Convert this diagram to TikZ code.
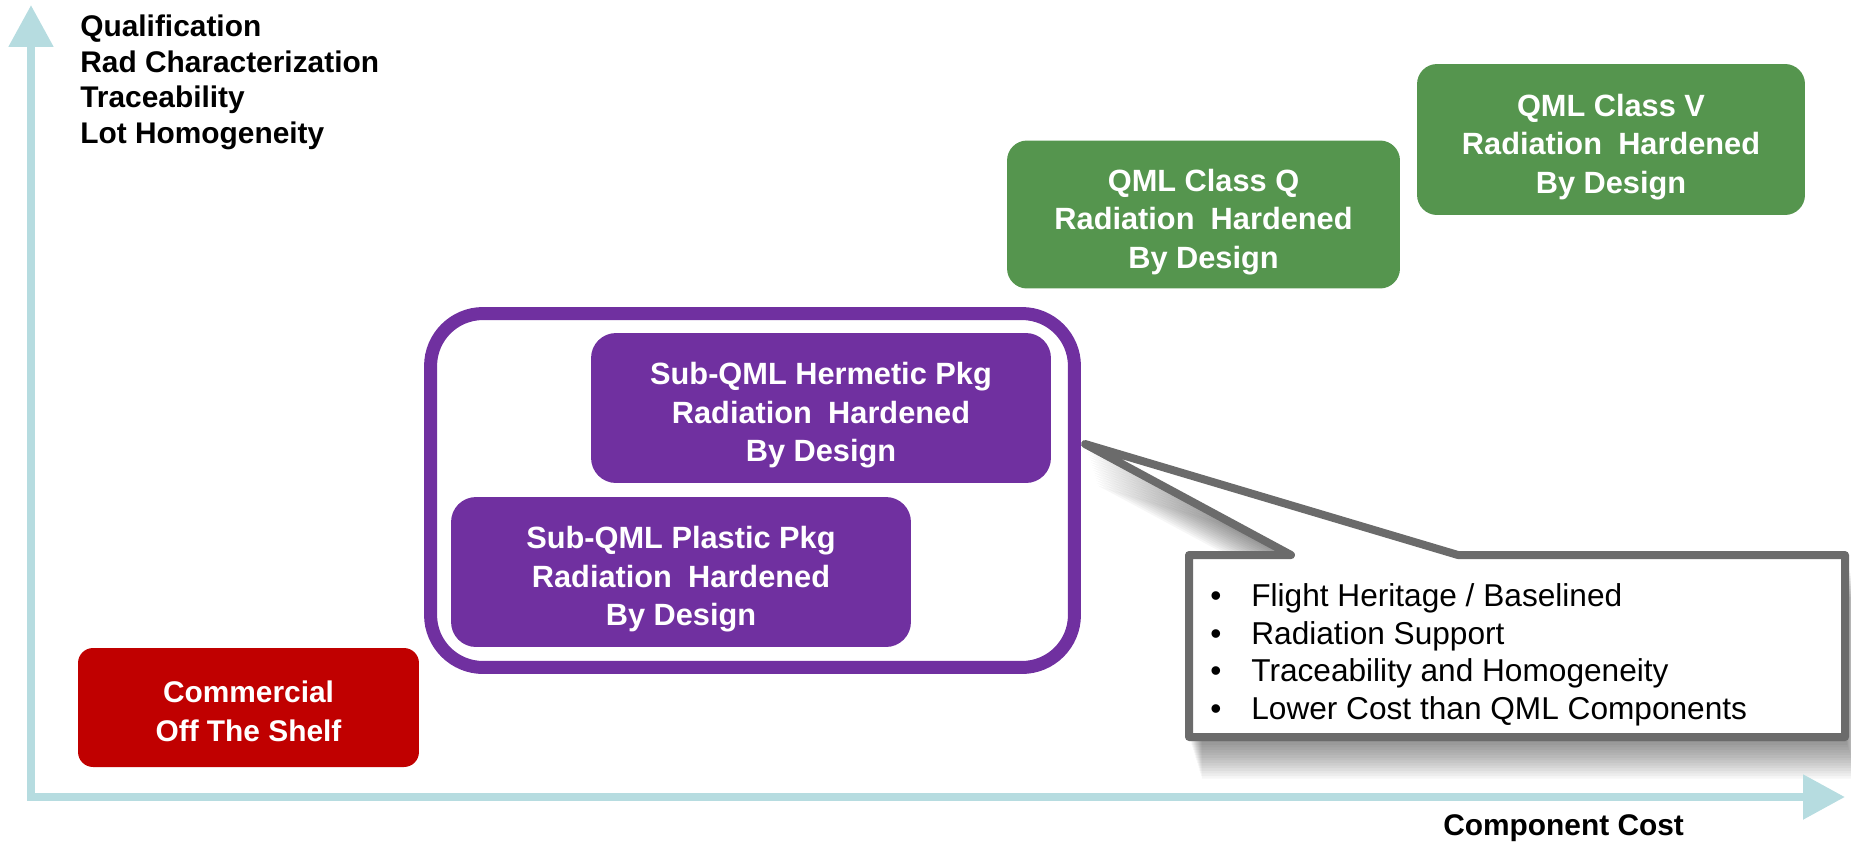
\documentclass[tikz,border=0pt]{standalone}
\usepackage{fontspec}
\setmainfont{Liberation Sans}
\usetikzlibrary{arrows.meta,positioning}
\definecolor{AxisTeal}{HTML}{B6DCE0}
\definecolor{CotsRed}{HTML}{C00000}
\definecolor{QmlGreen}{HTML}{55954E}
\definecolor{SubPurple}{HTML}{7030A0}
\definecolor{NoteGray}{HTML}{6B6B6B}
% padding above the first line of a box text
\newcommand{\boxpad}{\rule{0pt}{0.74cm}}
\newcommand{\cotspad}{\rule{0pt}{0.58cm}}
\tikzset{
    % Axis arrows
    axisarrow/.style={
        {Triangle[width=0.86cm,length=0.84cm]}-{Triangle[width=0.86cm,length=0.84cm]},
        line width=0.17cm,
        draw=AxisTeal,
        line join=miter
    },
    % Axis labels
    axislabel/.style={
        inner sep=0pt,
        align=left,
        font=\fontsize{17pt}{20.2pt}\selectfont\bfseries
    },
    % Base box style
    basebox/.style={
        inner sep=0pt,
        align=center,
        text=white,
        font=\fontsize{17.5pt}{21.8pt}\selectfont\bfseries
    },
    % COTS box
    cotsbox/.style={
        basebox,
        fill=CotsRed,
        rounded corners=0.3cm,
        minimum width=6.82cm,
        minimum height=2.38cm,
        font=\fontsize{17pt}{22.1pt}\selectfont\bfseries
    },
    % QML boxes
    qmlbox/.style={
        basebox,
        fill=QmlGreen,
        rounded corners=0.4cm,
        minimum width=7.8cm,
        minimum height=3cm
    },
    % Sub-QML boxes
    subqmlbox/.style={
        basebox,
        fill=SubPurple,
        rounded corners=0.5cm,
        minimum width=9.2cm,
        minimum height=3cm
    },
    % Frame round the Sub-QML boxes
    subqmlframe/.style={
        draw=SubPurple,
        line width=0.26cm,
        rounded corners=1.05cm,
        minimum width=12.88cm,
        minimum height=7.08cm
    },
    % Callout
    calloutline/.style={
        draw=NoteGray,
        fill=white,
        line width=0.16cm,
        line join=round
    },
    calloutshadow/.style={
        fill=black,
        opacity=0.035
    },
    notetext/.style={
        inner sep=0pt,
        align=left,
        font=\fontsize{18pt}{21.5pt}\selectfont
    }
}

\begin{document}
\begin{tikzpicture}[x=0.02cm, y=-0.02cm]
    \useasboundingbox (0,0) rectangle (1851,842);

    % Callout shadow
    \foreach \k in {1,...,16}
        \fill[calloutshadow, shift={(0.8*\k,2.6*\k)}] (1189,555) -- (1291,555) -- (1085,444) -- (1458,555) -- (1845,555) -- (1845,737) -- (1189,737) -- cycle;

    % Axes
    \coordinate (origin) at (31,797);
    \coordinate (ytip) at (31,5);
    \coordinate (xtip) at (1845,797);
    \draw[axisarrow] (ytip) -- (origin) -- (xtip);
    \node[axislabel, anchor=north west] (ylabel) at (80,15) {Qualification\\Rad Characterization\\Traceability\\Lot Homogeneity};
    \node[axislabel, anchor=base west] (xlabel) at (1443,835) {Component Cost};

    % Commercial parts
    \node[cotsbox] (cots) at (248.5,707.5) {\cotspad Commercial\\Off The Shelf};

    % Sub-QML parts
    \node[subqmlframe] (subqml) at (752.5,490.5) {};
    \node[subqmlbox] (hermetic) at (821,408) {\boxpad Sub-QML Hermetic Pkg\\Radiation\hspace{0.25em} Hardened\\By Design};
    \node[subqmlbox] (plastic) at (681,572) {\boxpad Sub-QML Plastic Pkg\\Radiation\hspace{0.25em} Hardened\\By Design};

    % QML parts
    \node[qmlbox, minimum width=7.86cm, minimum height=2.96cm] (classq) at (1203.5,214.5) {\boxpad QML Class Q\\Radiation\hspace{0.25em} Hardened\\By Design};
    \node[qmlbox, minimum width=7.76cm, minimum height=3.02cm] (classv) at (1611,139.5) {\boxpad QML Class V\\Radiation\hspace{0.25em} Hardened\\By Design};

    % Callout
    \draw[calloutline] (1189,555) -- (1291,555) -- (1085,444) -- (1458,555) -- (1845,555) -- (1845,737) -- (1189,737) -- cycle;
    \node[notetext, anchor=north west] (notes) at (1210,583) {%
        \makebox[0.82cm][l]{\textbullet}Flight Heritage / Baselined\\
        \makebox[0.82cm][l]{\textbullet}Radiation Support\\
        \makebox[0.82cm][l]{\textbullet}Traceability and Homogeneity\\
        \makebox[0.82cm][l]{\textbullet}Lower Cost than QML Components};
\end{tikzpicture}
\end{document}
